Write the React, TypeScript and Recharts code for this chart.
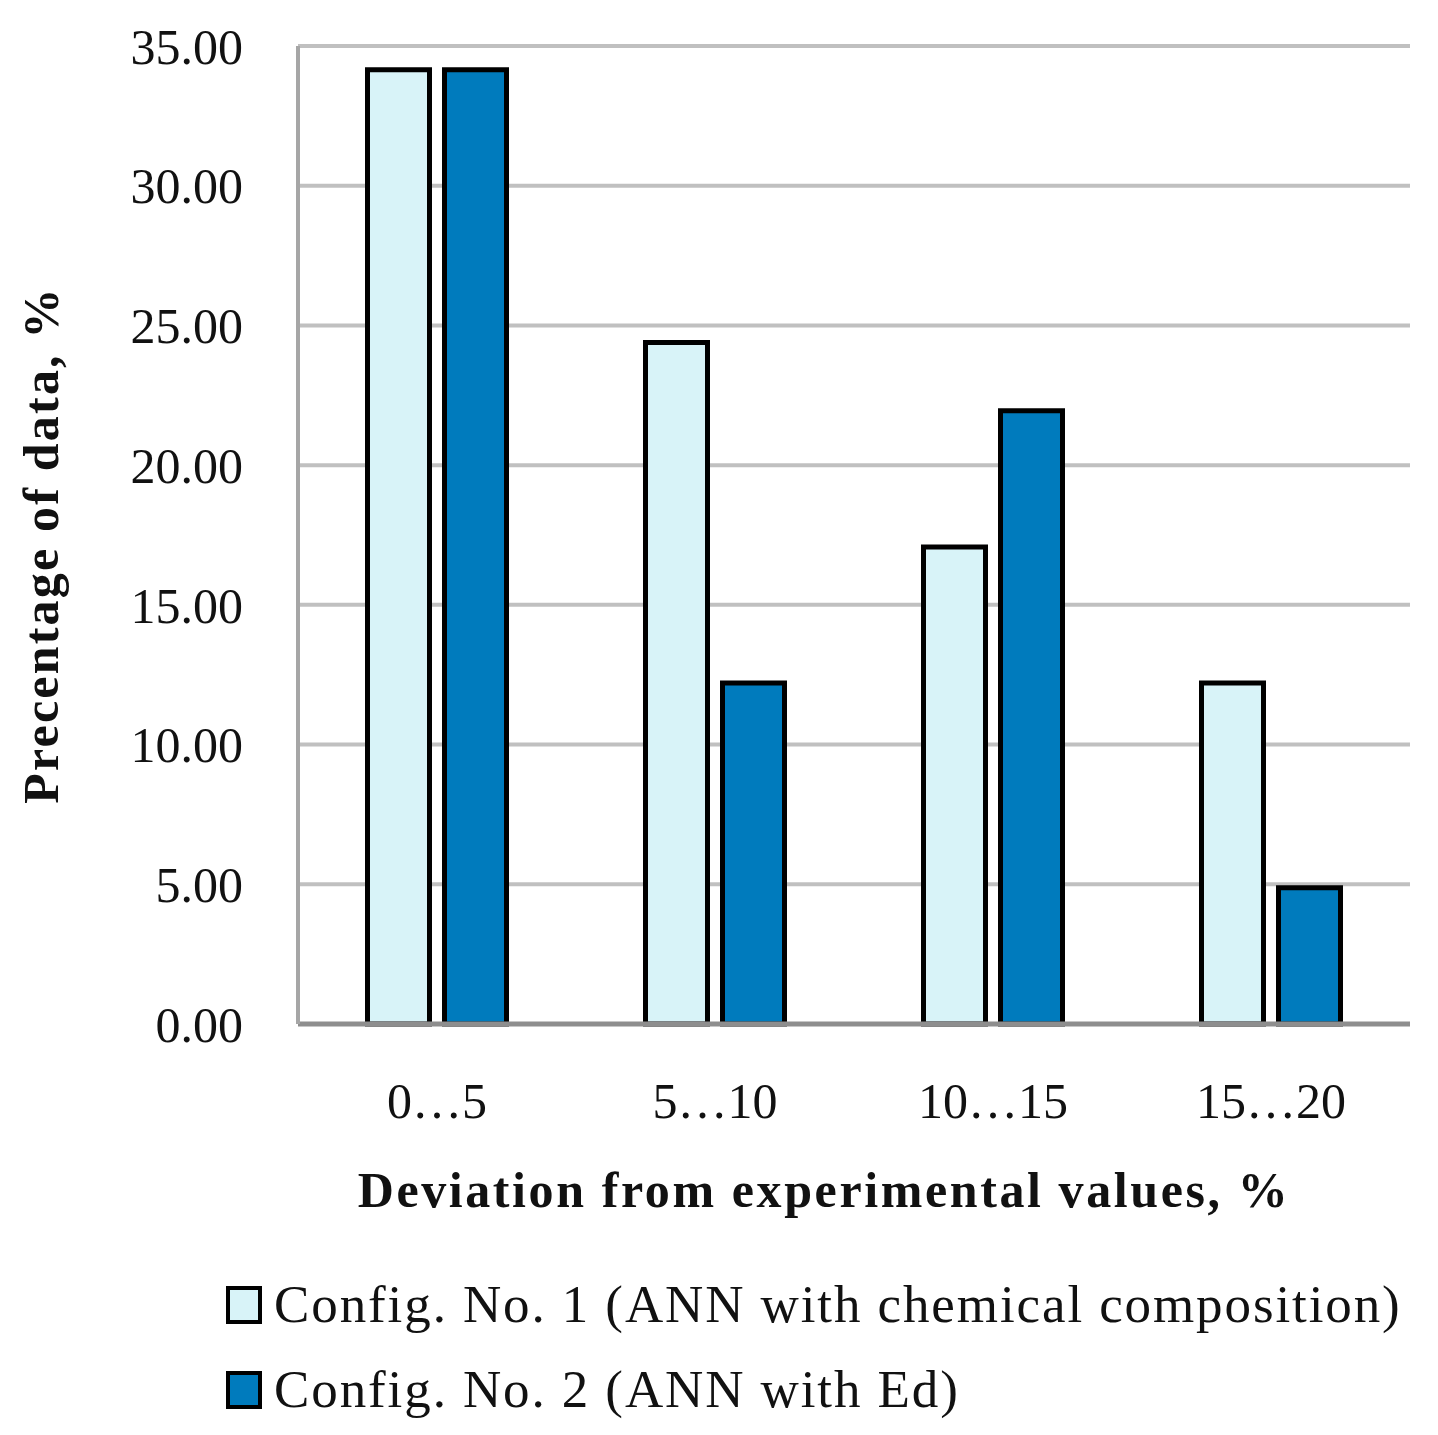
import { BarChart, Bar, XAxis, YAxis, CartesianGrid, Legend, Label } from 'recharts';

const categories = ['0…5', '5…10', '10…15', '15…20'];
const config1 = [34.15, 24.39, 17.07, 12.2];
const config2 = [34.15, 12.2, 21.95, 4.88];
const yTicks = [0, 5, 10, 15, 20, 25, 30, 35];

const seriesNames = ['Config. No. 1 (ANN with chemical composition)', 'Config. No. 2 (ANN with Ed)'];
const seriesColors = ['#D8F3F8', '#007BBD'];

const data = categories.map((c, i) => ({ name: c, c1: config1[i], c2: config2[i] }));

const FONT = '"Liberation Serif", "Times New Roman", serif';

function LegendBox() {
  return (
    <div style={{ fontFamily: FONT, fontSize: 53, color: '#111', lineHeight: '85px', letterSpacing: 1.9 }}>
      {seriesNames.map((n, i) => (
        <div key={n} style={{ display: 'flex', alignItems: 'center', whiteSpace: 'nowrap' }}>
          <span
            style={{
              display: 'inline-block',
              width: 28,
              height: 30,
              background: seriesColors[i],
              border: '4px solid #000',
              marginRight: 12,
            }}
          />
          {n}
        </div>
      ))}
    </div>
  );
}

export default function App() {
  return (
    <div style={{ position: 'absolute', left: 0, top: 0, width: 1438, height: 1435, background: '#fff' }}>
      <BarChart
        width={1438}
        height={1435}
        data={data}
        margin={{ top: 46, right: 28, left: 0, bottom: 211 }}
        barCategoryGap="25%"
        barGap={15}
      >
        <CartesianGrid vertical={false} stroke="#C0C0C0" strokeWidth={4} />
        <XAxis
          dataKey="name"
          height={200}
          stroke="#8E8E8E"
          strokeWidth={5}
          tickLine={false}
          tickSize={0}
          tickMargin={58}
          tick={{ fill: '#111', fontSize: 50, fontFamily: FONT }}
        >
          <Label
            content={({ viewBox }: any) => (
              <text
                x={viewBox.x + viewBox.width / 2 - 30}
                y={viewBox.y + 183}
                textAnchor="middle"
                fontFamily={FONT}
                fontWeight="bold"
                fontSize={50}
                letterSpacing={2.6}
                fill="#111"
              >
                Deviation from experimental values, %
              </text>
            )}
          />
        </XAxis>
        <YAxis
          width={298}
          domain={[0, 35]}
          ticks={yTicks}
          interval={0}
          stroke="#A6A6A6"
          strokeWidth={4}
          tickLine={false}
          tickSize={0}
          tickMargin={55}
          tickFormatter={(v: number) => v.toFixed(2)}
          tick={{ fill: '#111', fontSize: 50, fontFamily: FONT }}
        >
          <Label
            content={({ viewBox }: any) => (
              <text
                x={58}
                y={viewBox.y + viewBox.height / 2 + 10}
                transform={`rotate(-90, 58, ${viewBox.y + viewBox.height / 2 + 10})`}
                textAnchor="middle"
                fontFamily={FONT}
                fontWeight="bold"
                fontSize={50}
                letterSpacing={2.2}
                fill="#111"
              >
                Precentage of data, %
              </text>
            )}
          />
        </YAxis>
        <Legend
          layout="horizontal"
          align="center"
          verticalAlign="middle"
          content={() => <LegendBox />}
          wrapperStyle={{ top: 1262, left: 226, width: 1210, height: 170 }}
        />
        <Bar dataKey="c1" name={seriesNames[0]} fill={seriesColors[0]} stroke="#000" strokeWidth={5} isAnimationActive={false} />
        <Bar dataKey="c2" name={seriesNames[1]} fill={seriesColors[1]} stroke="#000" strokeWidth={5} isAnimationActive={false} />
      </BarChart>
    </div>
  );
}
